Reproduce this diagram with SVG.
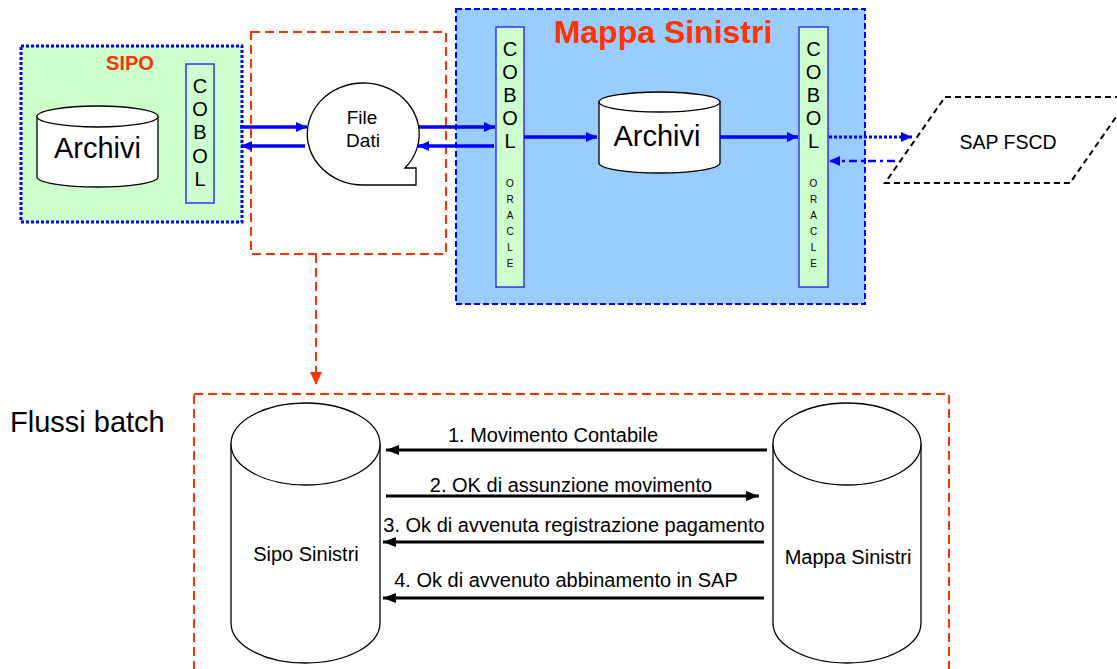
<svg xmlns="http://www.w3.org/2000/svg" width="1117" height="669" viewBox="0 0 1117 669">
  <defs>
    <style>
      text { font-family: "Liberation Sans", Arial, sans-serif; fill: #000; }
      .title { fill: #ff3300; font-weight: bold; text-anchor: middle; }
      .mid { text-anchor: middle; }
      .cyl { fill: #fff; stroke: #000; stroke-width: 1.3; }
      .cobol { fill: #ccffcc; stroke: #3333ff; stroke-width: 1.5; }
      .redbox { fill: none; stroke: #ff3300; stroke-width: 2; stroke-dasharray: 9 5; }
      .blue { stroke: #0000ff; stroke-width: 3.5; fill: none; }
      .black { stroke: #000; stroke-width: 3; fill: none; }
      .lbl { font-size: 20px; }
    </style>
    <marker id="ahBlue" markerUnits="userSpaceOnUse" markerWidth="12" markerHeight="12" refX="11" refY="6" orient="auto-start-reverse">
      <path d="M0,1 L11,6 L0,11 Z" fill="#0000ff"/>
    </marker>
    <marker id="ahBlack" markerUnits="userSpaceOnUse" markerWidth="14" markerHeight="12" refX="13" refY="6" orient="auto-start-reverse">
      <path d="M0,1 L13,6 L0,11 Z" fill="#000"/>
    </marker>
    <marker id="ahRed" markerUnits="userSpaceOnUse" markerWidth="12" markerHeight="14" refX="6" refY="13" orient="0">
      <path d="M0,0 L12,0 L6,13 Z" fill="#ff3300"/>
    </marker>
  </defs>

  <rect width="1117" height="669" fill="#fff"/>

  <!-- SIPO system -->
  <g id="sipo">
    <rect x="21" y="46" width="221" height="176" fill="#ccffcc" stroke="#0000ff" stroke-width="3" stroke-dasharray="3 2"/>
    <text class="title" x="130" y="70" font-size="20">SIPO</text>
  </g>
  <g id="sipo-archivi">
    <path class="cyl" d="M37,116.5 L37,177 A60.5,10 0 0 0 158,177 L158,116.5 Z"/>
    <ellipse class="cyl" cx="97.5" cy="116.5" rx="60.5" ry="10.5"/>
    <text class="mid" x="97.5" y="158" font-size="29">Archivi</text>
  </g>
  <g id="sipo-cobol">
    <rect class="cobol" x="186" y="64" width="28" height="139"/>
    <g class="mid" font-size="20">
      <text x="200" y="92.5">C</text>
      <text x="200" y="115.5">O</text>
      <text x="200" y="139">B</text>
      <text x="200" y="162.5">O</text>
      <text x="200" y="185.5">L</text>
    </g>
  </g>

  <!-- File Dati interchange -->
  <g id="file-dati-area">
    <rect class="redbox" x="251" y="32" width="195" height="222"/>
  </g>
  <g id="file-dati">
    <path d="M363,185 A56,51 0 1 1 405,168 L416,168 L416,185 Z" fill="#fff" stroke="#000" stroke-width="1.3"/>
    <text class="mid" x="362" y="124" font-size="19">File</text>
    <text class="mid" x="363" y="147" font-size="19">Dati</text>
  </g>

  <!-- Mappa Sinistri system -->
  <g id="mappa">
    <rect x="456" y="9" width="409" height="295" fill="#99ccff" stroke="#0000ff" stroke-width="2" stroke-dasharray="6 3"/>
    <text class="title" x="663" y="43" font-size="32">Mappa Sinistri</text>
  </g>
  <g id="mappa-cobol-in">
    <rect class="cobol" x="496" y="27" width="28" height="260"/>
    <g class="mid" font-size="20">
      <text x="510" y="55.5">C</text>
      <text x="510" y="78.6">O</text>
      <text x="510" y="101.7">B</text>
      <text x="510" y="124.8">O</text>
      <text x="510" y="148">L</text>
    </g>
    <g class="mid" font-size="10">
      <text x="510" y="187">O</text>
      <text x="510" y="203">R</text>
      <text x="510" y="219">A</text>
      <text x="510" y="235">C</text>
      <text x="510" y="251">L</text>
      <text x="510" y="267">E</text>
    </g>
  </g>
  <g id="mappa-archivi">
    <path class="cyl" d="M599,102 L599,163 A60.5,10 0 0 0 720,163 L720,102 Z"/>
    <ellipse class="cyl" cx="659.5" cy="102" rx="60.5" ry="10"/>
    <text class="mid" x="657" y="146" font-size="29">Archivi</text>
  </g>
  <g id="mappa-cobol-out">
    <rect class="cobol" x="799" y="27" width="29" height="260"/>
    <g class="mid" font-size="20">
      <text x="813.5" y="55.5">C</text>
      <text x="813.5" y="78.6">O</text>
      <text x="813.5" y="101.7">B</text>
      <text x="813.5" y="124.8">O</text>
      <text x="813.5" y="148">L</text>
    </g>
    <g class="mid" font-size="10">
      <text x="813.5" y="187">O</text>
      <text x="813.5" y="203">R</text>
      <text x="813.5" y="219">A</text>
      <text x="813.5" y="235">C</text>
      <text x="813.5" y="251">L</text>
      <text x="813.5" y="267">E</text>
    </g>
  </g>

  <!-- external system -->
  <g id="sap-fscd">
    <path d="M945,97 L1130,97 L1070,183 L885,183 Z" fill="#fff" stroke="#000" stroke-width="2" stroke-dasharray="6 4"/>
    <text class="mid" x="1008" y="149" font-size="19.5">SAP FSCD</text>
  </g>

  <!-- batch flows -->
  <text id="flussi-label" x="10" y="432" font-size="29">Flussi batch</text>
  <g id="batch-area">
    <rect class="redbox" x="194" y="394" width="755" height="300"/>
  </g>
  <g id="sipo-sinistri">
    <path class="cyl" d="M231,444 L231,623 A74.5,40 0 0 0 380,623 L380,444 Z"/>
    <ellipse class="cyl" cx="305.5" cy="444" rx="74.5" ry="41"/>
    <text class="mid lbl" x="306" y="561">Sipo Sinistri</text>
  </g>
  <g id="mappa-sinistri">
    <path class="cyl" d="M773,444 L773,623 A74,40 0 0 0 921,623 L921,444 Z"/>
    <ellipse class="cyl" cx="847" cy="444" rx="74" ry="41"/>
    <text class="mid lbl" x="848" y="564">Mappa Sinistri</text>
  </g>

  <!-- connectors -->
  <g id="connectors">
    <!-- SIPO <-> File Dati -->
    <line class="blue" x1="240" y1="127" x2="307" y2="127" marker-end="url(#ahBlue)"/>
    <line class="blue" x1="305" y1="146" x2="241" y2="146" marker-end="url(#ahBlue)"/>
    <!-- File Dati <-> Mappa COBOL -->
    <line class="blue" x1="419" y1="127" x2="495" y2="127" marker-end="url(#ahBlue)"/>
    <line class="blue" x1="494" y1="146" x2="418" y2="146" marker-end="url(#ahBlue)"/>
    <!-- inside Mappa Sinistri -->
    <line class="blue" x1="524" y1="137" x2="597" y2="137" marker-end="url(#ahBlue)"/>
    <line class="blue" x1="720" y1="137" x2="798" y2="137" marker-end="url(#ahBlue)"/>
    <!-- Mappa COBOL <-> SAP FSCD -->
    <line x1="829" y1="137" x2="912" y2="137" stroke="#0000ff" stroke-width="3" stroke-dasharray="3 2" marker-end="url(#ahBlue)"/>
    <line x1="895" y1="161" x2="829" y2="161" stroke="#0000ff" stroke-width="2.5" stroke-dasharray="8 4 3 4" marker-end="url(#ahBlue)"/>
    <!-- detail link to batch flows -->
    <path d="M316,254 L316,384" fill="none" stroke="#ff3300" stroke-width="2" stroke-dasharray="9 5"/>
    <path d="M310,372 L322,372 L316,385 Z" fill="#ff3300"/>
    <!-- batch messages -->
    <line class="black" x1="767" y1="450" x2="386" y2="450" marker-end="url(#ahBlack)"/>
    <text class="mid lbl" x="553" y="442">1. Movimento Contabile</text>
    <line class="black" x1="386" y1="496" x2="759" y2="496" marker-end="url(#ahBlack)"/>
    <text class="mid lbl" x="571" y="492">2. OK di assunzione movimento</text>
    <line class="black" x1="764" y1="542" x2="383" y2="542" marker-end="url(#ahBlack)"/>
    <text class="mid lbl" x="574" y="532">3. Ok di avvenuta registrazione pagamento</text>
    <line class="black" x1="764" y1="598" x2="383" y2="598" marker-end="url(#ahBlack)"/>
    <text class="mid lbl" x="566" y="587">4. Ok di avvenuto abbinamento in SAP</text>
  </g>
</svg>
